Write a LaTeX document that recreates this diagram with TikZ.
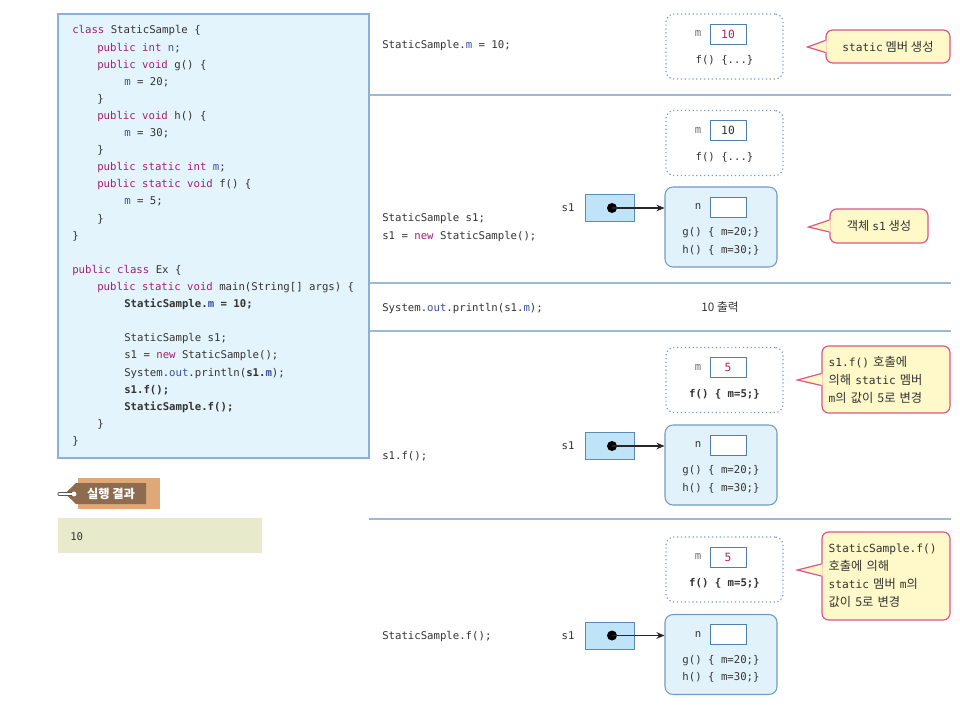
\documentclass[tikz,border=0pt]{standalone}
\usepackage{fontspec}
\setmainfont{Noto Sans CJK KR}
\setmonofont{DejaVu Sans Mono}
\usetikzlibrary{arrows.meta,calc}
\definecolor{txt}{HTML}{333333}
\definecolor{kwc}{HTML}{A3206E}
\definecolor{varc}{HTML}{3A4FA8}
\definecolor{codefill}{HTML}{E4F4FC}
\definecolor{codeline}{HTML}{8CAFD6}
\definecolor{sepc}{HTML}{9DB8D8}
\definecolor{dotc}{HTML}{7A9CC6}
\definecolor{objfill}{HTML}{E1F2FB}
\definecolor{objline}{HTML}{6F9BC4}
\definecolor{reffill}{HTML}{BFE4F8}
\definecolor{refline}{HTML}{5A8AB8}
\definecolor{valline}{HTML}{4F7FB0}
\definecolor{valred}{HTML}{B0245A}
\definecolor{mgray}{HTML}{707070}
\definecolor{callfill}{HTML}{FFF8C8}
\definecolor{callline}{HTML}{E0548A}
\definecolor{tagtan}{HTML}{DFA878}
\definecolor{tagbrown}{HTML}{8E6B4F}
\definecolor{resfill}{HTML}{E8EBCB}
\newcommand\kw[1]{\textcolor{kwc}{#1}}
\newcommand\vr[1]{\textcolor{varc}{#1}}
\newcommand\cm[1]{{\ttfamily\fontsize{8.4}{13.5}\selectfont #1}}
\newcommand\StatBlk[5]{%
  \node[dotbox] (#1) at (724.5,#2) {};
  \node[valbox, text=#4] (#1v) at (728,#2-12.5) {#3};
  \node[lbl, text=mgray] (#1m) at (698,#2-12.5) {m};
  \node[mono] (#1f) at (724.5,#2+14) {#5};
}
\newcommand\ObjBlk[2]{%
  \node[objbox] (#1) at (721,#2) {};
  \node[valbox] (#1v) at (728,#2-20) {};
  \node[lbl] (#1n) at (698,#2-20) {n};
  \node[mono] (#1g) at (721,#2+6) {g() \{ m=20;\}};
  \node[mono] (#1h) at (721,#2+23) {h() \{ m=30;\}};
  \node[refbox] (#1r) at (609.5,#2-19) {};
  \node[dotnode] (#1d) at (612,#2-19) {};
  \node[lbl] (#1s) at (568,#2-19) {s1};
  \draw[ptr] (#1d.center) -- (#1.west |- #1d);
}
\newcommand\Pointer[4]{% node, dx tip, dy tip, dy base
  \fill[callfill] ($(#1.west)+(#2,#3)$) -- ($(#1.west)+(1.2,#4-6)$) -- ($(#1.west)+(1.2,#4+6)$) -- cycle;
  \draw[callline, line width=0.9pt, line join=miter] ($(#1.west)+(0,#4-6)$) -- ($(#1.west)+(#2,#3)$) -- ($(#1.west)+(0,#4+6)$);
}
\begin{document}
\begin{tikzpicture}[x=0.75pt,y=-0.75pt,
  code/.style={anchor=base west, inner sep=0pt, font=\ttfamily\fontsize{8}{10}\selectfont, text=txt},
  mono/.style={inner sep=0pt, font=\ttfamily\fontsize{8}{10}\selectfont, text=txt},
  lbl/.style={inner sep=0pt, font=\ttfamily\fontsize{8}{10}\selectfont, text=txt},
  dotbox/.style={draw=dotc, dotted, line width=0.9pt, rounded corners=6pt, minimum width=87.75pt, minimum height=48.75pt},
  valbox/.style={draw=valline, fill=white, line width=0.7pt, minimum width=27pt, minimum height=15pt, inner sep=0pt, font=\ttfamily\fontsize{8.5}{10}\selectfont},
  objbox/.style={draw=objline, fill=objfill, line width=0.8pt, rounded corners=6pt, minimum width=84pt, minimum height=60pt},
  refbox/.style={draw=refline, fill=reffill, line width=0.7pt, minimum width=36.75pt, minimum height=20.25pt},
  dotnode/.style={circle, fill=black, inner sep=0pt, minimum size=7.5pt},
  ptr/.style={-{Stealth[length=6pt,width=5pt]}, line width=0.9pt, black!85},
  callbox/.style={draw=callline, fill=callfill, line width=0.9pt, rounded corners=5pt, inner sep=0pt, align=left, font=\fontsize{9.2}{13.5}\selectfont, text=txt},
  sep/.style={draw=sepc, line width=0.8pt}
]
\useasboundingbox (0,0) rectangle (960,720);
\fill[white] (0,0) rectangle (960,720);

% code box
\node[draw=codeline, fill=codefill, line width=0.8pt, minimum width=233.25pt, minimum height=333pt, inner sep=0pt] (codebox) at (213.5,236) {};

\node[code] (c1) at (72,34) {\kw{class} StaticSample \{};
\node[code] (c2) at (97,51.1) {\kw{public int} \vr{n};};
\node[code] (c3) at (97,68.2) {\kw{public void} g() \{};
\node[code] (c4) at (124,85.3) {\vr{m} = 20;};
\node[code] (c5) at (97,102.4) {\}};
\node[code] (c6) at (97,119.5) {\kw{public void} h() \{};
\node[code] (c7) at (124,136.6) {\vr{m} = 30;};
\node[code] (c8) at (97,153.7) {\}};
\node[code] (c9) at (97,170.8) {\kw{public static int} \vr{m};};
\node[code] (c10) at (97,187.9) {\kw{public static void} f() \{};
\node[code] (c11) at (124,205) {\vr{m} = 5;};
\node[code] (c12) at (97,222.1) {\}};
\node[code] (c13) at (72,239.2) {\}};
\node[code] (c15) at (72,273.4) {\kw{public class} Ex \{};
\node[code] (c16) at (97,290.5) {\kw{public static void} main(String[] args) \{};
\node[code] (c17) at (124,307.6) {\textbf{StaticSample.\vr{m} = 10;}};
\node[code] (c19) at (124,341.8) {StaticSample s1;};
\node[code] (c20) at (124,358.9) {s1 = \kw{new} StaticSample();};
\node[code] (c21) at (124,376) {System.\vr{out}.println(\textbf{s1.\vr{m}});};
\node[code] (c22) at (124,393.1) {\textbf{s1.f();}};
\node[code] (c23) at (124,410.2) {\textbf{StaticSample.f();}};
\node[code] (c24) at (97,427.3) {\}};
\node[code] (c25) at (72,444.4) {\}};

% separators
\draw[sep] (codebox.east |- 0,95) -- (951,95);
\draw[sep] (codebox.east |- 0,283) -- (951,283);
\draw[sep] (codebox.east |- 0,331) -- (951,331);
\draw[sep] (369,519) -- (951,519);

% row texts
\node[code] (r1) at (382,49) {StaticSample.\vr{m} = 10;};
\node[code] (r2a) at (382,222) {StaticSample s1;};
\node[code] (r2b) at (382,240) {s1 = \kw{new} StaticSample();};
\node[code] (r3) at (382,311) {System.\vr{out}.println(s1.\vr{m});};
\node[code] (r4) at (382,459) {s1.f();};
\node[code] (r5) at (382,639) {StaticSample.f();};
\node[inner sep=0pt, font=\fontsize{8.8}{10}\selectfont, text=txt] (out3) at (720,307) {10 출력};

% static blocks
\StatBlk{sA}{46.5}{10}{valred}{f() \{...\}}
\StatBlk{sB}{143}{10}{txt}{f() \{...\}}
\StatBlk{sC}{380}{5}{valred}{\textbf{f() \{ m=5;\}}}
\StatBlk{sD}{569.5}{5}{valred}{\textbf{f() \{ m=5;\}}}

% object blocks
\ObjBlk{oB}{227}
\ObjBlk{oC}{465}
\ObjBlk{oD}{654.5}

% callouts
\node[callbox, minimum width=93pt, minimum height=24.75pt, align=center] (k1) at (888,46.5) {\cm{static} 멤버 생성};
\Pointer{k1}{-18}{0.5}{0}
\node[callbox, minimum width=73.5pt, minimum height=25.5pt, align=center] (k2) at (879,226) {객체 \cm{s1} 생성};
\Pointer{k2}{-21}{1}{0}
\node[callbox, minimum width=96pt, minimum height=50.25pt, text width=86pt] (k4) at (886,379.5) {\cm{s1.f()} 호출에\\의해 \cm{static} 멤버\\\cm{m}의 값이 5로 변경};
\Pointer{k4}{-24}{0.5}{0}
\node[callbox, minimum width=96pt, minimum height=66pt, text width=86pt] (k5) at (886,576) {\cm{StaticSample.f()}\\호출에 의해\\\cm{static} 멤버 \cm{m}의\\값이 5로 변경};
\Pointer{k5}{-24}{-6}{-6}

% result tag
\fill[tagtan] (78,478) rectangle (160,509);
\fill[tagbrown] (146,483) -- (146,504) -- (76,504) -- (65,493.5) -- (76,483) -- cycle;
\draw[black!65, line width=2.4pt, line cap=round] (59,494) -- (73,494);
\draw[white, line width=1.1pt, line cap=round] (59,494) -- (73,494);
\fill[white] (74,494) circle (2.4);
\node[inner sep=0pt, font=\bfseries\fontsize{9.2}{10}\selectfont, text=white] (tagtext) at (111,493.5) {실행 결과};
\fill[resfill] (58,518) rectangle (262,553);
\node[code] (res) at (70,540) {10};
\end{tikzpicture}
\end{document}
